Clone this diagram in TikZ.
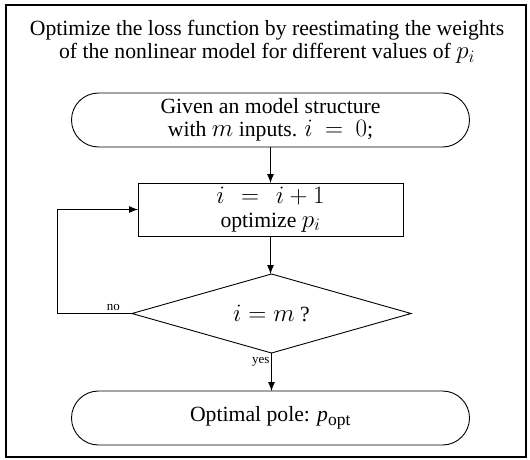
\RequirePackage{fix-cm}
\documentclass[tikz,border=0pt]{standalone}
\usepackage{fontspec}
\setmainfont{Liberation Serif}
\DeclareMathSizes{21.7}{25}{17.5}{12.5}
\usetikzlibrary{shapes.geometric,shapes.misc,arrows.meta}

\tikzset{
  every node/.style={inner sep=0pt, outer sep=0pt},
  txt/.style={font=\fontsize{21.7}{23.5}\selectfont, align=center},
  small/.style={font=\fontsize{13}{14}\selectfont},
  terminal/.style={txt, draw, line width=0.9pt, rounded rectangle,
    minimum width=398pt, minimum height=54pt},
  process/.style={txt, draw, line width=0.9pt, rectangle,
    minimum width=265pt, minimum height=53pt},
  decision/.style={txt, draw, line width=0.9pt, diamond, aspect=3.53,
    minimum width=279pt, minimum height=79pt},
  flow/.style={line width=0.9pt, -{Latex[length=9pt,width=7pt]}},
}

\begin{document}
\begin{tikzpicture}[x=1pt,y=-1pt]
  % page frame
  \useasboundingbox (0,0) rectangle (530,460);
  \draw[line width=1.1pt] (6,5) rectangle (526,457);

  % heading
  \node[txt] (title) at (267,42)
    {Optimize the loss function by reestimating the weights\\
     of the nonlinear model for different values of $p_i$};

  % flowchart nodes
  \node[terminal] (start) at (270.5,120)
    {Given an model structure\\ with $m$ inputs. $i\ =\ 0$;};
  \node[process] (step) at (270.5,209.5)
    {$i\ \,=\ \,i+1$\\ optimize $p_i$};
  \node[decision] (test) at (271.5,313.5) {$i=m$ ?};
  \node[terminal] (stop) at (270.5,418)
    {Optimal pole: \textit{p}\textsubscript{opt}};

  % loop-back corner
  \coordinate (back) at (57,313.5);

  % connectors
  \draw[flow] (start.south -| step.north) -- (step.north);
  \draw[flow] (step.south) -- (step.south |- test.north);
  \draw[flow] (test.south) -- node[small, left, pos=0.22, xshift=-2pt] {yes} (test.south |- stop.north);
  \draw[flow] (test.west) -- node[small, above, pos=0.25, yshift=3pt] {no} (back) |- (step.west);
\end{tikzpicture}
\end{document}
